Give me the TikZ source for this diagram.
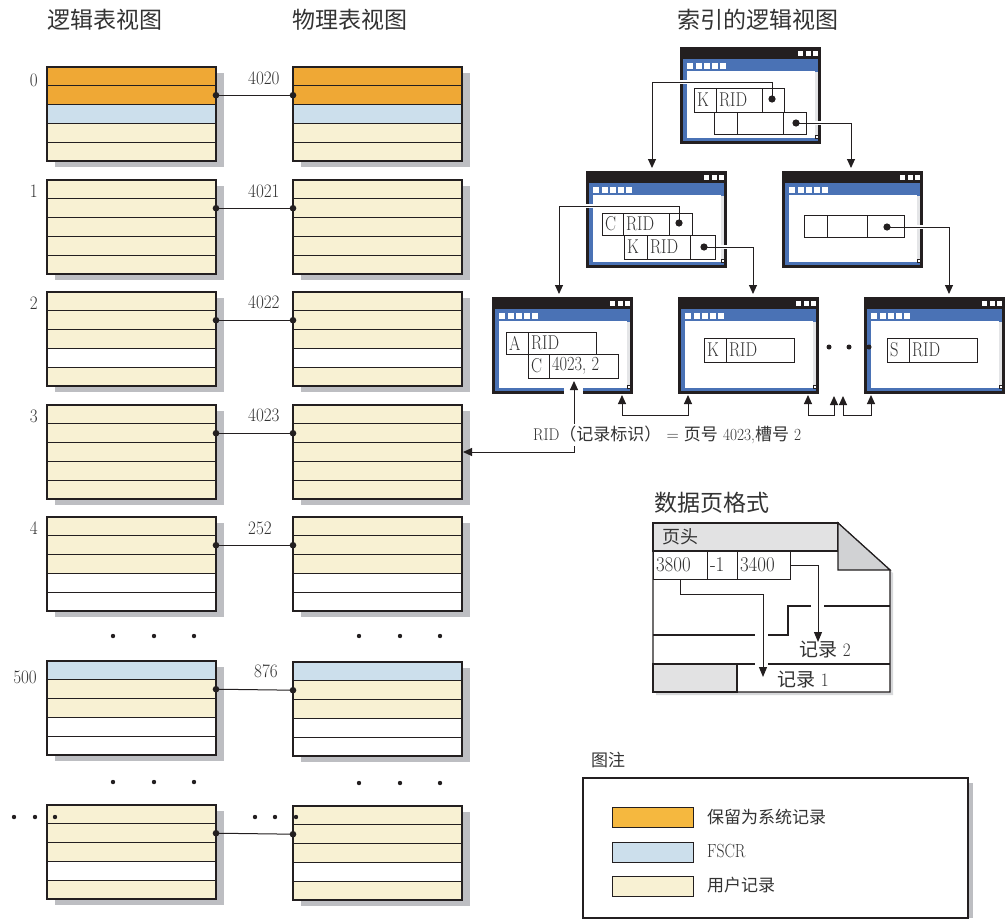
\documentclass[tikz,border=0pt]{standalone}
\usepackage{fontspec}
\newfontfamily\cjk{Noto Sans CJK SC}
\usetikzlibrary{arrows.meta}
\definecolor{orng}{HTML}{EFA835}
\definecolor{lorng}{HTML}{F5B83F}
\definecolor{fscr}{HTML}{CCDFEC}
\definecolor{usr}{HTML}{F8F1D3}
\definecolor{shd}{HTML}{BDBEC2}
\definecolor{ink}{HTML}{231F20}
\definecolor{txt}{HTML}{333333}
\definecolor{winblue}{HTML}{4A72B5}
\definecolor{scroll}{HTML}{E4E5E7}
\definecolor{hdrgrey}{HTML}{E2E2E3}
\definecolor{foldgrey}{HTML}{D1D2D4}
\newcommand\fsz[1]{\fontsize{#1}{#1}\selectfont}
\newcommand\cnd[1]{\scalebox{0.82}[1]{#1}}
\newcommand\cnn[1]{\scalebox{0.9}[1]{#1}}

\newcommand{\pageblk}[4]{%
  \fill[shd] (#2+8,#3+6) rectangle (#2+177,#3+100);
  \foreach \cc [count=\ii from 0] in {#4} {%
    \fill[\cc] (#2,#3+\ii*18.8) rectangle (#2+169,#3+\ii*18.8+18.8);
    \draw[rowline] (#2,#3+\ii*18.8) -- (#2+169,#3+\ii*18.8);
  }
  \node[blkframe, anchor=north west] (#1) at (#2,#3) {};
  \coordinate (#1-d) at (#2+169,#3+28.2);
  \coordinate (#1-p) at (#2,#3+28.2);
  \coordinate (#1-r) at (#2+169,#3+47);
}

\newcommand{\idxwin}[3]{%
  \begin{scope}[shift={(#2,#3)}]
    \node[winframe, anchor=north west] (#1) at (0,0) {};
    \fill[winblue] (3,12) rectangle (138,94);
    \fill[white] (7,24) rectangle (135,91);
    \fill[scroll] (135,25) rectangle (138,91);
    \foreach \k in {0,...,2} \fill[white] (118+7.5*\k,4) rectangle +(5,5);
    \foreach \k in {0,...,4} \fill[white] (7.3+8.2*\k,16) rectangle +(6,6);
    \filldraw[fill=white, draw=ink, line width=0.5pt] (135,88) rectangle (138.5,91.5);
  \end{scope}}

\newcommand{\rcell}[6]{\node[cell, text width=#4pt, minimum height=#5pt] (#1) at (#2,#3) {\cnd{#6}};}

\begin{document}
\begin{tikzpicture}[x=1pt,y=-1pt,
  rowline/.style={draw=ink, line width=1pt},
  blkframe/.style={draw=ink, line width=1.3pt, minimum width=169pt, minimum height=94pt, inner sep=0pt, outer sep=0pt},
  winframe/.style={fill=ink, minimum width=141pt, minimum height=97pt, inner sep=0pt, outer sep=0pt},
  link/.style={draw=ink, line width=1pt},
  tree/.style={draw=ink, line width=1pt, -{Triangle[length=9pt,width=8pt]}, shorten >=3pt,
     preaction={draw=white, line width=4pt, -}},
  sib/.style={draw=ink, line width=1pt, {Triangle[length=9pt,width=8pt]}-{Triangle[length=9pt,width=8pt]}, shorten <=1pt, shorten >=1pt},
  dpa/.style={draw=ink, line width=1pt, -{Triangle[length=10pt,width=8pt]}},
  cell/.style={draw=ink, line width=1pt, inner xsep=3pt, inner ysep=0pt, outer sep=0pt, anchor=north west, align=left, font=\fsz{20}, text=txt},
  numl/.style={font=\fsz{19}, text=txt, inner sep=0pt},
  head/.style={font=\cjk\fsz{23}, text=txt, inner sep=0pt, anchor=west},
  swatch/.style={draw=ink, line width=1pt, minimum width=81pt, minimum height=20pt, inner sep=0pt, outer sep=0pt, anchor=north west},
  lgtext/.style={font=\cjk\fsz{17}, text=txt, inner sep=0pt, anchor=west},
  dotm/.style={fill=ink}
]
\useasboundingbox (0,0) rectangle (1005,919);
\fill[white] (0,0) rectangle (1005,919);

% headings
\node[head] (hL) at (47,20) {逻辑表视图};
\node[head] (hP) at (292,20) {物理表视图};
\node[head] (hI) at (677,20) {索引的逻辑视图};
\node[head] (hD) at (654,503) {数据页格式};

% page blocks
\pageblk{L0}{47}{67}{orng,orng,fscr,usr,usr}
\pageblk{P0}{293}{67}{orng,orng,fscr,usr,usr}
\pageblk{L1}{47}{180}{usr,usr,usr,usr,usr}
\pageblk{P1}{293}{180}{usr,usr,usr,usr,usr}
\pageblk{L2}{47}{292}{usr,usr,usr,white,usr}
\pageblk{P2}{293}{292}{usr,usr,usr,white,usr}
\pageblk{L3}{47}{405}{usr,usr,usr,usr,usr}
\pageblk{P3}{293}{405}{usr,usr,usr,usr,usr}
\pageblk{L4}{47}{517}{usr,usr,usr,white,white}
\pageblk{P4}{293}{517}{usr,usr,usr,white,white}
\pageblk{L5}{47}{661}{fscr,usr,usr,white,white}
\pageblk{P5}{293}{662}{fscr,usr,usr,white,white}
\pageblk{L6}{47}{805}{usr,usr,usr,white,usr}
\pageblk{P6}{293}{806}{usr,usr,usr,white,usr}

% logical page numbers
\node[numl, anchor=east] (n0) at (38,80) {\cnn{0}};
\node[numl, anchor=east] (n1) at (38,191) {\cnn{1}};
\node[numl, anchor=east] (n2) at (38,303) {\cnn{2}};
\node[numl, anchor=east] (n3) at (38,416) {\cnn{3}};
\node[numl, anchor=east] (n4) at (38,528) {\cnn{4}};
\node[numl, anchor=east] (n5) at (37,677) {\cnn{500}};
% physical page numbers
\node[numl, anchor=west] (m0) at (248,78) {\cnn{4020}};
\node[numl, anchor=west] (m1) at (248,191) {\cnn{4021}};
\node[numl, anchor=west] (m2) at (248,302) {\cnn{4022}};
\node[numl, anchor=west] (m3) at (248,415) {\cnn{4023}};
\node[numl, anchor=west] (m4) at (248,528) {\cnn{252}};
\node[numl, anchor=west] (m5) at (254,671) {\cnn{876}};

% links logical -> physical
\foreach \b in {0,...,6} {
  \draw[link] (L\b-d) -- (P\b-p);
  \fill[dotm] (L\b-d) circle[radius=3.3];
  \fill[dotm] (P\b-p) circle[radius=3.3];
}

% ellipsis dots
\foreach \xx in {113,154,194} {\fill[dotm] (\xx,636) circle[radius=2.2]; \fill[dotm] (\xx,782) circle[radius=2.2];}
\foreach \xx in {359,400,440} {\fill[dotm] (\xx,636) circle[radius=2.2]; \fill[dotm] (\xx,783) circle[radius=2.2];}
\foreach \xx in {14,35,55,255,275,296} {\fill[dotm] (\xx,817) circle[radius=2.2];}

% index windows
\idxwin{wT}{680}{47}
\idxwin{wML}{586}{171}
\idxwin{wMR}{782}{171}
\idxwin{wBL}{492}{297}
\idxwin{wBM}{678}{297}
\idxwin{wBR}{864}{297}
\foreach \xx in {829,849,869} {\fill[dotm] (\xx,347) circle[radius=2.5];}

% tree connectors
\coordinate (td1) at (772,99);
\coordinate (td2) at (796,123);
\coordinate (md1) at (679,223);
\coordinate (md2) at (704,247);
\coordinate (rd1) at (887,227);
\coordinate (k1) at (652,82);
\coordinate (k2) at (851,123);
\coordinate (k3) at (559,206);
\coordinate (k4) at (753,247);
\coordinate (k5) at (949,227);
\draw[tree] (td1) |- (k1) -- (k1 |- wML.north);
\draw[tree] (td2) -- (k2) -- (k2 |- wMR.north);
\draw[tree] (md1) |- (k3) -- (k3 |- wBL.north);
\draw[tree] (md2) -- (k4) -- (k4 |- wBM.north);
\draw[tree] (rd1) -- (k5) -- (k5 |- wBR.north);

% cells
\rcell{tK}{694}{88}{16}{24}{K}
\rcell{tR}{716}{88}{40}{24}{RID}
\rcell{tP}{762}{88}{16}{24}{}
\rcell{tA}{714}{112}{17}{22}{}
\rcell{tB}{737}{112}{40}{22}{}
\rcell{tQ}{783}{112}{17}{22}{}
\rcell{mC}{602}{213}{15}{22}{C}
\rcell{mR}{623}{213}{40}{22}{RID}
\rcell{mP}{669}{213}{17}{22}{}
\rcell{mK}{624}{235}{17}{24}{K}
\rcell{mR2}{647}{235}{37}{24}{RID}
\rcell{mQ}{690}{235}{19}{24}{}
\rcell{rA}{804}{215}{17}{22}{}
\rcell{rB}{827}{215}{34}{22}{}
\rcell{rP}{867}{215}{31}{22}{}
\rcell{bA}{506}{332}{16}{22}{A}
\rcell{bR}{528}{332}{62}{22}{RID}
\rcell{bC}{528}{354}{15}{24}{C}
\rcell{bV}{549}{354}{63}{24}{4023, 2}
\rcell{cK}{704}{338}{16}{24}{K}
\rcell{cR}{726}{338}{62}{24}{RID}
\rcell{dS}{887}{338}{16}{24}{S}
\rcell{dR}{909}{338}{62}{24}{RID}
\foreach \p in {td1,td2,md1,md2,rd1} {\fill[dotm] (\p) circle[radius=3.6];}

% sibling links
\coordinate (s1) at (622,415);
\coordinate (s2) at (688,415);
\coordinate (s3) at (808,415);
\coordinate (s4) at (834,415);
\coordinate (s5) at (843,415);
\coordinate (s6) at (871,415);
\coordinate (e4) at (834,395);
\coordinate (e5) at (843,395);
\draw[sib] (s1 |- wBL.south) -- (s1) -- (s2) -- (s2 |- wBM.south);
\draw[sib] (s3 |- wBM.south) -- (s3) -- (s4) -- (e4);
\draw[sib] (e5) -- (s5) -- (s6) -- (s6 |- wBR.south);

% RID arrow
\fill[white] (564,388) rectangle (583,395);
\coordinate (rc) at (574,452);
\draw[sib, shorten >=3pt] (P3-r) -- (rc) -- (rc |- bV.south);
\node[fill=white, inner xsep=1pt, inner ysep=2pt, anchor=west, font=\fsz{17}, text=txt] (ridl) at (532,435)
  {\cnn{RID}{\cjk （记录标识）} = {\cjk 页号} \cnn{4023,}{\cjk 槽号} \cnn{2}};

% data page format
\fill[shd!60] (656,526) -- (841,526) -- (893,573) -- (893,695) -- (656,695) -- cycle;
\filldraw[fill=white, draw=ink, line width=1.2pt] (653,523) -- (838,523) -- (890,570) -- (890,692) -- (653,692) -- cycle;
\filldraw[fill=hdrgrey, draw=ink, line width=1.2pt] (653,523) rectangle (838,551);
\filldraw[fill=foldgrey, draw=ink, line width=1.2pt] (838,523) -- (838,570) -- (890,570) -- cycle;
\filldraw[fill=hdrgrey, draw=ink, line width=1.2pt] (653,664) rectangle (737,692);
\draw[ink, line width=1.2pt] (653,635) -- (755,635);
\draw[ink, line width=1.2pt] (768,635) -- (788,635) -- (788,606) -- (811,606);
\draw[ink, line width=1.2pt] (824,606) -- (890,606);
\draw[ink, line width=1.2pt] (653,664) -- (755,664);
\draw[ink, line width=1.2pt] (768,664) -- (890,664);
\node[font=\cjk\fsz{18}, text=txt, inner sep=0pt, anchor=west] (hdr) at (662,537) {页头};
\node[cell, font=\fsz{21}, text width=48pt, minimum height=28pt] (c38) at (653,551) {\cnn{3800}};
\node[cell, font=\fsz{21}, text width=24pt, minimum height=28pt] (c1) at (707,551) {\cnn{-1}};
\node[cell, font=\fsz{21}, text width=47pt, minimum height=28pt] (c34) at (737,551) {\cnn{3400}};
\coordinate (q1) at (680,594);
\coordinate (q2) at (763,594);
\coordinate (q3) at (818,565);
\coordinate (q4) at (763,677);
\coordinate (q5) at (818,642);
\draw[dpa] (c38.south -| q1) -- (q1) -- (q2) -- (q4);
\draw[dpa] (c34.east) -- (q3) -- (q5);
\node[font=\fsz{19}, text=txt, inner sep=0pt] (r2) at (825,650) {{\cjk 记录} \cnn{2}};
\node[font=\fsz{19}, text=txt, inner sep=0pt] (r1) at (803,680) {{\cjk 记录} \cnn{1}};

% legend
\node[lgtext] (lgt) at (591,760) {图注};
\fill[shd] (968,783) rectangle (973,918);
\node[draw=ink, line width=1.2pt, minimum width=385pt, minimum height=140pt, inner sep=0pt, outer sep=0pt, anchor=north west, fill=white] (lgbox) at (583,778) {};
\node[swatch, fill=lorng] (sw1) at (612,807) {};
\node[swatch, fill=fscr] (sw2) at (612,842) {};
\node[swatch, fill=usr] (sw3) at (612,876) {};
\node[lgtext] (lt1) at (707,817) {保留为系统记录};
\node[lgtext, font=\fsz{19}] (lt2) at (707,851) {\cnd{FSCR}};
\node[lgtext] (lt3) at (707,885) {用户记录};
\end{tikzpicture}
\end{document}
